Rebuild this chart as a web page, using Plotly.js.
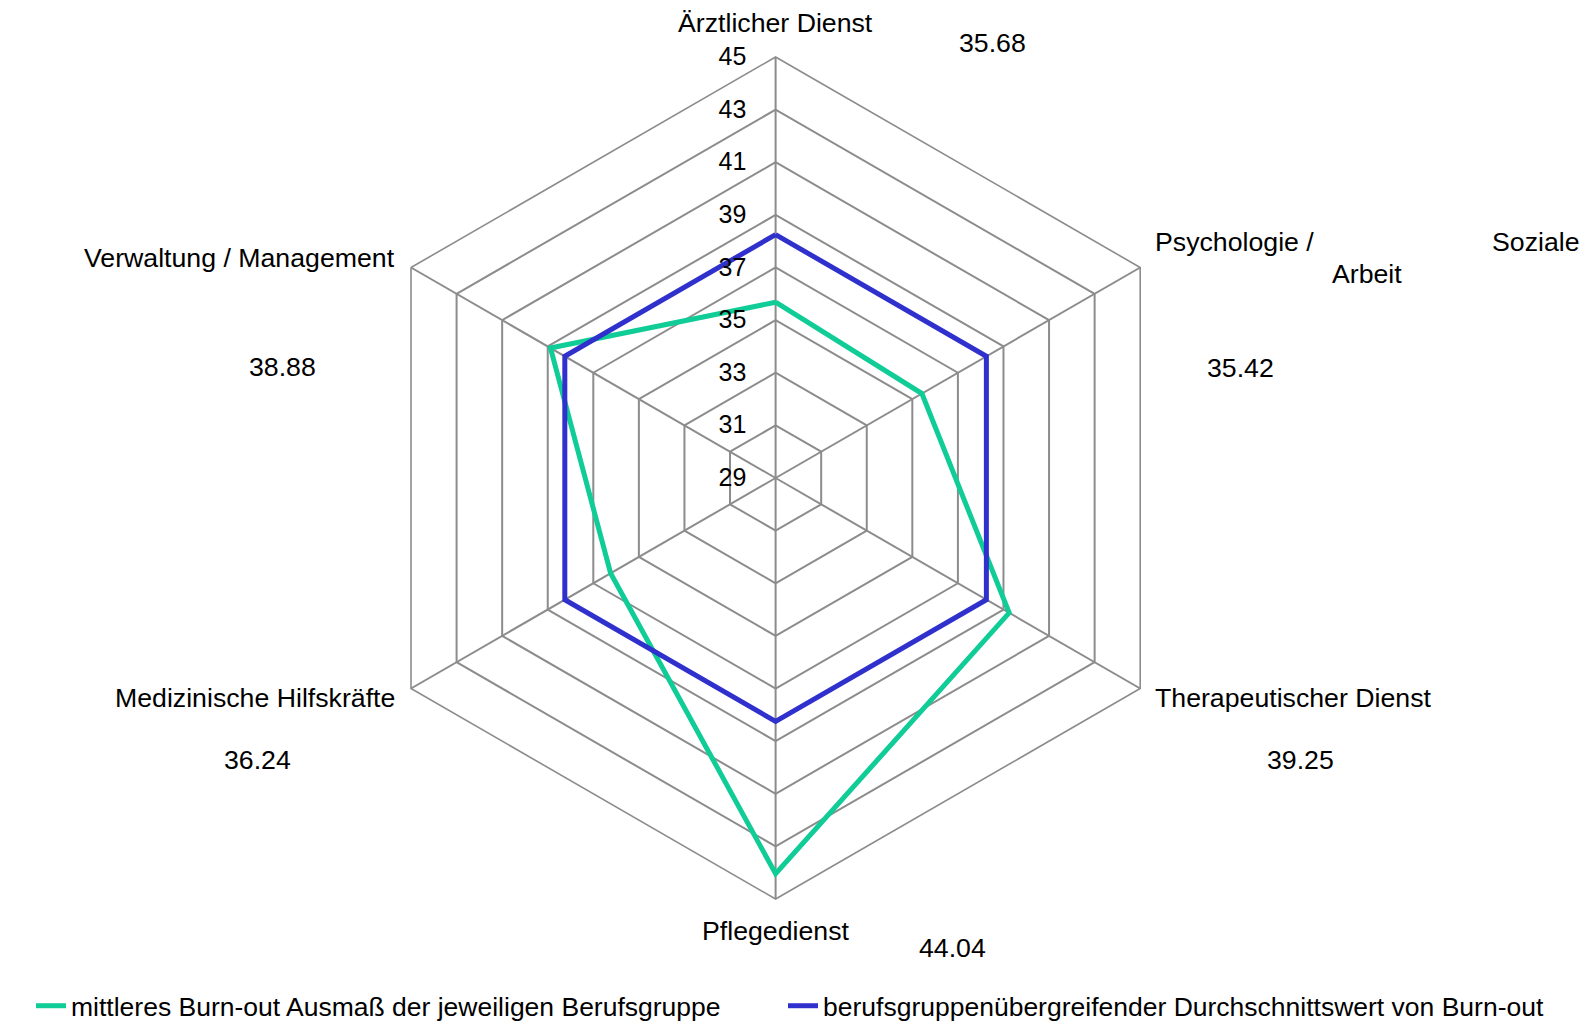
<!DOCTYPE html>
<html>
<head>
<meta charset="utf-8">
<script src="https://cdn.plot.ly/plotly-3.0.1.min.js"></script>
<style>
  html, body { margin: 0; padding: 0; background: #ffffff; }
  #chart { width: 1596px; height: 1022px; }
</style>
</head>
<body>
<div id="chart"></div>
<script>
// Berufsgruppen (clockwise from the top)
const categories = [
  "Ärztlicher Dienst",
  "Psychologie / Soziale Arbeit",
  "Therapeutischer Dienst",
  "Pflegedienst",
  "Medizinische Hilfskräfte",
  "Verwaltung / Management"
];

// mean burn-out score per group
const groupValues = [35.68, 35.42, 39.25, 44.04, 36.24, 38.88];

// overall average across all groups
const averageValues = [38.25, 38.25, 38.25, 38.25, 38.25, 38.25];

const radialTicks = [29, 31, 33, 35, 37, 39, 41, 43, 45];

const seriesNames = [
  "mittleres Burn-out Ausmaß der jeweiligen Berufsgruppe",
  "berufsgruppenübergreifender Durchschnittswert von Burn-out"
];

// page size and pixel -> paper helpers
const W = 1596, H = 1022;
const px = x => x / W;
const py = y => 1 - y / H;

const FONT = "Liberation Sans, Arial, sans-serif";
const GRID = "#8c8c8c";
const TXT = 26.7;

function closed(arr) { return arr.concat([arr[0]]); }

const traces = [
  {
    type: "scatterpolar",
    mode: "lines",
    r: closed(groupValues),
    theta: closed(categories),
    name: seriesNames[0],
    legendwidth: 707,
    line: { color: "#10cc96", width: 5 },
    hoverinfo: "r+theta"
  },
  {
    type: "scatterpolar",
    mode: "lines",
    r: closed(averageValues),
    theta: closed(categories),
    name: seriesNames[1],
    legendwidth: 745,
    line: { color: "#3030cc", width: 5 },
    hoverinfo: "r+theta"
  }
];

// category labels around the web
const catLabels = [
  { text: "Ärztlicher Dienst", x: 775.6, y: 23, xanchor: "center" },
  { text: "Psychologie /", x: 1153, y: 242, xanchor: "left" },
  { text: "Soziale", x: 1582, y: 242, xanchor: "right" },
  { text: "Arbeit", x: 1367, y: 274, xanchor: "center" },
  { text: "Therapeutischer Dienst", x: 1153, y: 698, xanchor: "left" },
  { text: "Pflegedienst", x: 775.6, y: 931, xanchor: "center" },
  { text: "Medizinische Hilfskräfte", x: 397, y: 698, xanchor: "right" },
  { text: "Verwaltung / Management", x: 397, y: 258, xanchor: "right" }
];

// value labels, one per group
const valuePos = [
  [992.5, 43],
  [1240, 368],
  [1300, 760],
  [952.5, 948],
  [257.5, 760],
  [282, 367]
];

const annotations = [];
catLabels.forEach(c => annotations.push({
  xref: "paper", yref: "paper",
  x: px(c.x), y: py(c.y),
  xanchor: c.xanchor, yanchor: "middle",
  text: c.text, showarrow: false,
  font: { family: FONT, size: TXT, color: "#000000" }
}));
groupValues.forEach((v, i) => annotations.push({
  xref: "paper", yref: "paper",
  x: px(valuePos[i][0]), y: py(valuePos[i][1]),
  xanchor: "center", yanchor: "middle",
  text: v.toFixed(2), showarrow: false,
  font: { family: FONT, size: TXT, color: "#000000" }
}));

// polar area: centre (775.6, 478), radius 421
const cx = 775.6, cy = 478, rad = 421;

const layout = {
  width: W,
  height: H,
  margin: { l: 0, r: 0, t: 0, b: 0, autoexpand: false },
  paper_bgcolor: "#ffffff",
  plot_bgcolor: "#ffffff",
  font: { family: FONT, size: 25, color: "#000000" },
  showlegend: true,
  legend: {
    orientation: "h",
    x: px(31), y: py(1006),
    xanchor: "left", yanchor: "middle",
    font: { family: FONT, size: 26.5, color: "#000000" },
    entrywidthmode: "pixels",
    bgcolor: "rgba(0,0,0,0)"
  },
  polar: {
    domain: {
      x: [px(cx - rad), px(cx + rad)],
      y: [py(cy + rad), py(cy - rad)]
    },
    bgcolor: "#ffffff",
    gridshape: "linear",
    radialaxis: {
      range: [29, 45],
      tickvals: radialTicks,
      ticktext: radialTicks.map(String),
      angle: 90,
      side: "counterclockwise",
      tickangle: 90,
      showline: false,
      showgrid: true,
      gridcolor: GRID,
      gridwidth: 1.6,
      ticks: "outside",
      ticklen: 20,
      tickcolor: "rgba(0,0,0,0)",
      tickfont: { family: FONT, size: 25, color: "#000000" }
    },
    angularaxis: {
      type: "category",
      categoryorder: "array",
      categoryarray: categories,
      direction: "clockwise",
      rotation: 90,
      showticklabels: false,
      ticks: "",
      showline: true,
      linecolor: GRID,
      linewidth: 1.6,
      showgrid: true,
      gridcolor: GRID,
      gridwidth: 1.6
    }
  },
  annotations: annotations
};

Plotly.newPlot("chart", traces, layout, { displayModeBar: false, responsive: false });
</script>
</body>
</html>
